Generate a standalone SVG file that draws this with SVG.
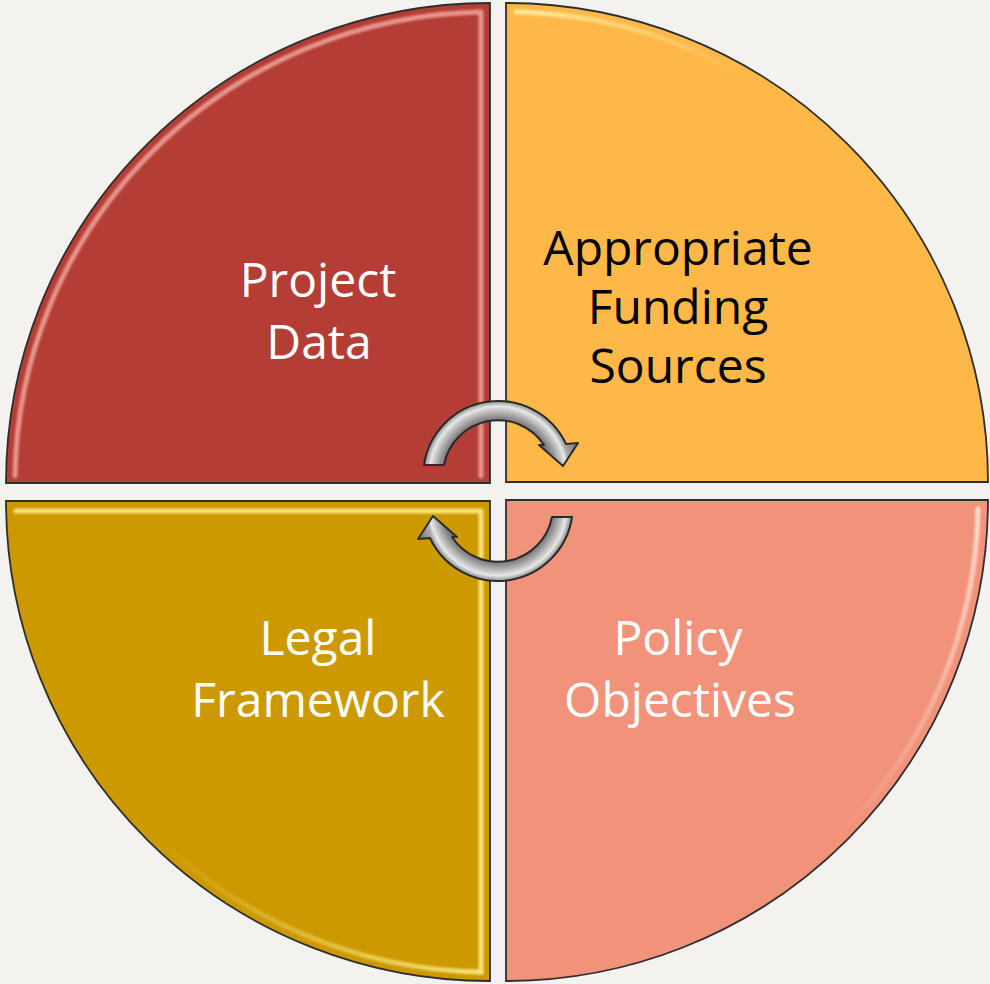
<svg xmlns="http://www.w3.org/2000/svg" width="990" height="984" viewBox="0 0 990 984">
  <style>
    .label { font-family: "Open Sans", "Liberation Sans", sans-serif; font-size: 48px; text-anchor: middle; }
    .light { fill: #ffffff; }
    .dark { fill: #000000; }
    .rim { fill: none; stroke: #2e2e2e; stroke-width: 1.8; }
    .ridge { fill: none; stroke-width: 5; stroke-linecap: round; stroke-linejoin: round; filter: url(#soft); }
    .arrow { fill: url(#arrowShade); stroke: #2a2a2a; stroke-width: 2; stroke-linejoin: round; }
  </style>
  <defs>
    <!-- quarter-disc sectors, each with its right-angle corner at the centre -->
    <path id="q-tl" d="M 490 483 L 6 483 A 484 480 0 0 1 490 3 Z"/>
    <path id="q-tr" d="M 506 482 L 506 3 A 482 479 0 0 1 988 482 Z"/>
    <path id="q-bl" d="M 490 501 L 490 981 A 484 480 0 0 1 6 501 Z"/>
    <path id="q-br" d="M 506 500 L 988 500 A 482 481 0 0 1 506 981 Z"/>
    <clipPath id="clip-tl"><use href="#q-tl"/></clipPath>
    <clipPath id="clip-tr"><use href="#q-tr"/></clipPath>
    <clipPath id="clip-bl"><use href="#q-bl"/></clipPath>
    <clipPath id="clip-br"><use href="#q-br"/></clipPath>
    <filter id="soft" x="-10%" y="-10%" width="120%" height="120%">
      <feGaussianBlur stdDeviation="1.2"/>
    </filter>
    <!-- fading bevel highlights for partial arcs -->
    <linearGradient id="fade-tr" x1="0" y1="0" x2="1" y2="0">
      <stop offset="0" stop-color="#fff0a6" stop-opacity="0.9"/>
      <stop offset="1" stop-color="#fff0a6" stop-opacity="0"/>
    </linearGradient>
    <linearGradient id="fade-bl" x1="1" y1="0" x2="0" y2="0">
      <stop offset="0" stop-color="#f7e27a" stop-opacity="1"/>
      <stop offset="1" stop-color="#f7e27a" stop-opacity="0"/>
    </linearGradient>
    <linearGradient id="fade-br" x1="0" y1="0" x2="0" y2="1">
      <stop offset="0" stop-color="#ffdccd" stop-opacity="1"/>
      <stop offset="1" stop-color="#ffdccd" stop-opacity="0"/>
    </linearGradient>
    <!-- curved arrow band: inner r 55, outer r 75 around (498,475) -->
    <radialGradient id="arrowShade" gradientUnits="userSpaceOnUse" cx="498" cy="475" r="88">
      <stop offset="0.60" stop-color="#6e6e6e"/>
      <stop offset="0.66" stop-color="#8e8e8e"/>
      <stop offset="0.74" stop-color="#c8c8c8"/>
      <stop offset="0.78" stop-color="#e8e8e8"/>
      <stop offset="0.82" stop-color="#ababab"/>
      <stop offset="0.90" stop-color="#8c8c8c"/>
      <stop offset="1.00" stop-color="#6a6a6a"/>
    </radialGradient>
    <path id="curl" d="M 424 465 A 75 75 0 0 1 566 444 L 578 443 L 563 466 L 539 445 L 544 445 A 55 55 0 0 0 444 465 Z"/>
  </defs>

  <rect width="990" height="984" fill="#f4f2ef"/>

  <g id="project-data">
    <use href="#q-tl" fill="#b43e36"/>
    <g clip-path="url(#clip-tl)">
      <path class="ridge" stroke="#e8948b" d="M 15 476 A 475 471 0 0 1 481 12 L 481 476"/>
    </g>
    <use href="#q-tl" class="rim"/>
    <text class="label light" x="318" y="297">Project</text>
    <text class="label light" x="319" y="359">Data</text>
  </g>

  <g id="funding-sources">
    <use href="#q-tr" fill="#fdb848"/>
    <g clip-path="url(#clip-tr)">
      <path class="ridge" stroke="url(#fade-tr)" d="M 516 12 A 473 470 0 0 1 742 75"/>
      <path class="ridge" stroke="#fff3a0" d="M 517 472 L 977 472"/>
    </g>
    <use href="#q-tr" class="rim"/>
    <text class="label dark" x="678" y="265">Appropriate</text>
    <text class="label dark" x="678" y="324">Funding</text>
    <text class="label dark" x="678" y="383">Sources</text>
  </g>

  <g id="legal-framework">
    <use href="#q-bl" fill="#cc9900"/>
    <g clip-path="url(#clip-bl)">
      <path class="ridge" stroke="#f7e27a" d="M 16 511 L 481 511 L 481 972"/>
      <path class="ridge" stroke="url(#fade-bl)" d="M 481 972 A 475 471 0 0 1 154 834"/>
    </g>
    <use href="#q-bl" class="rim"/>
    <text class="label light" x="318" y="655">Legal</text>
    <text class="label light" x="318" y="717">Framework</text>
  </g>

  <g id="policy-objectives">
    <use href="#q-br" fill="#f1937b"/>
    <g clip-path="url(#clip-br)">
      <path class="ridge" stroke="#ffdccd" d="M 515 972 L 515 509"/>
      <path class="ridge" stroke="#ffd2c2" opacity="0.6" d="M 515 509 L 978 509"/>
      <path class="ridge" stroke="url(#fade-br)" d="M 978 509 A 473 472 0 0 1 840 834"/>
    </g>
    <use href="#q-br" class="rim"/>
    <text class="label light" x="678" y="655">Policy</text>
    <text class="label light" x="680" y="717">Objectives</text>
  </g>

  <g id="connectors">
    <use href="#curl" class="arrow"/>
    <use href="#curl" class="arrow" transform="rotate(180 498 491)"/>
  </g>
</svg>
